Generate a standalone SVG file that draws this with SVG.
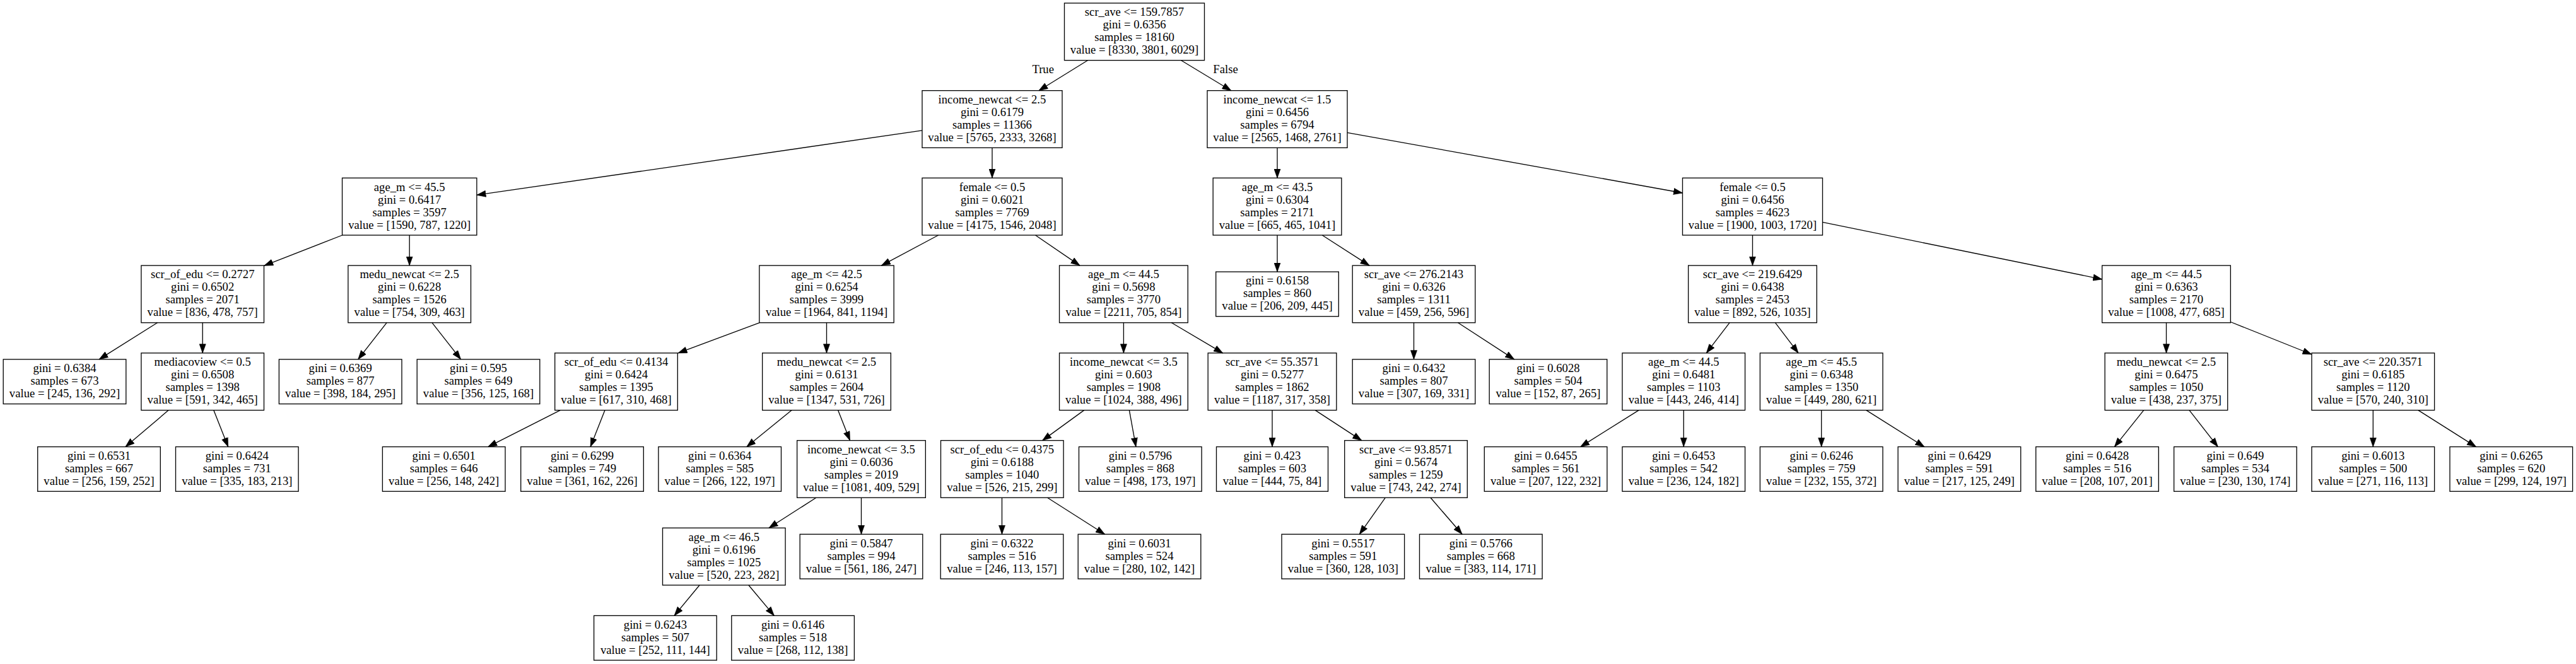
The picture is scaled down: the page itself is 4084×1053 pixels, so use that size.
<svg xmlns="http://www.w3.org/2000/svg" width="4084" height="1053" viewBox="0 0 4084 1053">
<style>
.n rect{fill:none;stroke:#000;stroke-width:1.33}
text{font-family:"Liberation Serif","Times New Roman",serif;font-size:18.67px;text-anchor:middle;fill:#000}
#edges path{fill:none;stroke:#000;stroke-width:1.33;marker-end:url(#ah)}
</style>
<defs>
<marker id="ah" markerUnits="userSpaceOnUse" markerWidth="15" markerHeight="11" viewBox="0 0 14 10" refX="13.5" refY="5" orient="auto">
<path d="M0.2,0.3 L13.5,5 L0.2,9.7 z" fill="#000" stroke="#000" stroke-width="0.6"/>
</marker>
</defs>
<rect x="0" y="0" width="4084" height="1053" fill="#fff"/>
<g id="edges">
<path d="M1724.4,95.7 L1646.9,143.7"/>
<path d="M1872.6,95.7 L1951.9,143.7"/>
<path d="M1462,206.9 L755.9,309.3"/>
<path d="M1573,234.4 L1573,282.3"/>
<path d="M1487.6,373 L1397.4,421.1"/>
<path d="M1641.6,373 L1712,421.1"/>
<path d="M2025,234.4 L2025,282.3"/>
<path d="M2025,373 L2025,431.1"/>
<path d="M2136,210.3 L2667.5,306"/>
<path d="M2096.3,373 L2171.1,421.1"/>
<path d="M2778.5,373 L2778.5,421.1"/>
<path d="M2889.5,352.3 L3332.7,442.9"/>
<path d="M542.6,373 L418.7,421.3"/>
<path d="M649.2,373 L649.2,421.1"/>
<path d="M1203.9,511.8 L1075,559.9"/>
<path d="M1310.5,511.8 L1310.5,559.9"/>
<path d="M1781.4,511.8 L1781.4,559.9"/>
<path d="M1857.3,511.8 L1938.7,559.9"/>
<path d="M2241.5,511.8 L2241.5,569.9"/>
<path d="M2311.5,511.8 L2400.8,569.9"/>
<path d="M2742,511.8 L2705.3,559.9"/>
<path d="M2814.6,511.8 L2851.1,559.9"/>
<path d="M3434.5,511.8 L3434.5,559.9"/>
<path d="M3536.3,510.5 L3665,562"/>
<path d="M249.5,511.8 L157.1,569.9"/>
<path d="M321.2,511.8 L321.2,559.9"/>
<path d="M613,511.8 L567.7,569.9"/>
<path d="M685.1,511.8 L730.6,569.9"/>
<path d="M267.1,650.6 L198.9,708.6"/>
<path d="M338.8,650.6 L361.7,708.6"/>
<path d="M888.1,650.6 L773.7,708.6"/>
<path d="M959,650.6 L936.1,708.6"/>
<path d="M1255.1,650.6 L1183.8,708.6"/>
<path d="M1328.6,650.6 L1347.5,698.6"/>
<path d="M1293.9,789.3 L1219,837.3"/>
<path d="M1365.5,789.3 L1365.5,847.3"/>
<path d="M1109,928 L1069,976.4"/>
<path d="M1186.9,928 L1227.4,976.4"/>
<path d="M1718.6,650.6 L1652.6,698.6"/>
<path d="M1790.4,650.6 L1800.9,708.6"/>
<path d="M2017,650.6 L2017,708.6"/>
<path d="M2085.3,650.6 L2158.8,698.6"/>
<path d="M1588.5,789.3 L1588.5,847.3"/>
<path d="M1660.6,789.3 L1751.6,847.3"/>
<path d="M2196.2,789.3 L2155.3,847.3"/>
<path d="M2268,789.3 L2318.1,847.3"/>
<path d="M2598,650.6 L2505.6,708.6"/>
<path d="M2669.3,650.6 L2669.3,708.6"/>
<path d="M2887.7,650.6 L2887.7,708.6"/>
<path d="M2958.9,650.6 L3050.9,708.6"/>
<path d="M3398.6,650.6 L3352.3,708.6"/>
<path d="M3471,650.6 L3516.3,708.6"/>
<path d="M3762.3,650.6 L3762.3,708.6"/>
<path d="M3834,650.6 L3925.6,708.6"/>
<text x="1653.7" y="116">True</text>
<text x="1943" y="116">False</text>
</g>
<g id="n1" class="n"><rect x="1687.5" y="4.95" width="222" height="90.7"/><text x="1798.5" y="25.2">scr_ave &lt;= 159.7857</text><text x="1798.5" y="45.2">gini = 0.6356</text><text x="1798.5" y="65.2">samples = 18160</text><text x="1798.5" y="85.2">value = [8330, 3801, 6029]</text></g>
<g id="n2" class="n"><rect x="1462" y="143.65" width="222" height="90.7"/><text x="1573" y="163.9">income_newcat &lt;= 2.5</text><text x="1573" y="183.9">gini = 0.6179</text><text x="1573" y="203.9">samples = 11366</text><text x="1573" y="223.9">value = [5765, 2333, 3268]</text></g>
<g id="n3" class="n"><rect x="1914" y="143.65" width="222" height="90.7"/><text x="2025" y="163.9">income_newcat &lt;= 1.5</text><text x="2025" y="183.9">gini = 0.6456</text><text x="2025" y="203.9">samples = 6794</text><text x="2025" y="223.9">value = [2565, 1468, 2761]</text></g>
<g id="n4" class="n"><rect x="542.55" y="282.25" width="213.3" height="90.7"/><text x="649.2" y="302.5">age_m &lt;= 45.5</text><text x="649.2" y="322.5">gini = 0.6417</text><text x="649.2" y="342.5">samples = 3597</text><text x="649.2" y="362.5">value = [1590, 787, 1220]</text></g>
<g id="n5" class="n"><rect x="1462" y="282.25" width="222" height="90.7"/><text x="1573" y="302.5">female &lt;= 0.5</text><text x="1573" y="322.5">gini = 0.6021</text><text x="1573" y="342.5">samples = 7769</text><text x="1573" y="362.5">value = [4175, 1546, 2048]</text></g>
<g id="n6" class="n"><rect x="1923.15" y="282.25" width="203.7" height="90.7"/><text x="2025" y="302.5">age_m &lt;= 43.5</text><text x="2025" y="322.5">gini = 0.6304</text><text x="2025" y="342.5">samples = 2171</text><text x="2025" y="362.5">value = [665, 465, 1041]</text></g>
<g id="n7" class="n"><rect x="2667.5" y="282.25" width="222" height="90.7"/><text x="2778.5" y="302.5">female &lt;= 0.5</text><text x="2778.5" y="322.5">gini = 0.6456</text><text x="2778.5" y="342.5">samples = 4623</text><text x="2778.5" y="362.5">value = [1900, 1003, 1720]</text></g>
<g id="n8" class="n"><rect x="223.9" y="421.05" width="194.6" height="90.7"/><text x="321.2" y="441.3">scr_of_edu &lt;= 0.2727</text><text x="321.2" y="461.3">gini = 0.6502</text><text x="321.2" y="481.3">samples = 2071</text><text x="321.2" y="501.3">value = [836, 478, 757]</text></g>
<g id="n9" class="n"><rect x="551.9" y="421.05" width="194.6" height="90.7"/><text x="649.2" y="441.3">medu_newcat &lt;= 2.5</text><text x="649.2" y="461.3">gini = 0.6228</text><text x="649.2" y="481.3">samples = 1526</text><text x="649.2" y="501.3">value = [754, 309, 463]</text></g>
<g id="n10" class="n"><rect x="1203.85" y="421.05" width="213.3" height="90.7"/><text x="1310.5" y="441.3">age_m &lt;= 42.5</text><text x="1310.5" y="461.3">gini = 0.6254</text><text x="1310.5" y="481.3">samples = 3999</text><text x="1310.5" y="501.3">value = [1964, 841, 1194]</text></g>
<g id="n11" class="n"><rect x="1679.55" y="421.05" width="203.7" height="90.7"/><text x="1781.4" y="441.3">age_m &lt;= 44.5</text><text x="1781.4" y="461.3">gini = 0.5698</text><text x="1781.4" y="481.3">samples = 3770</text><text x="1781.4" y="501.3">value = [2211, 705, 854]</text></g>
<g id="n12" class="n"><rect x="1927.7" y="431.05" width="194.6" height="70.7"/><text x="2025" y="451.3">gini = 0.6158</text><text x="2025" y="471.3">samples = 860</text><text x="2025" y="491.3">value = [206, 209, 445]</text></g>
<g id="n13" class="n"><rect x="2144.2" y="421.05" width="194.6" height="90.7"/><text x="2241.5" y="441.3">scr_ave &lt;= 276.2143</text><text x="2241.5" y="461.3">gini = 0.6326</text><text x="2241.5" y="481.3">samples = 1311</text><text x="2241.5" y="501.3">value = [459, 256, 596]</text></g>
<g id="n14" class="n"><rect x="2676.65" y="421.05" width="203.7" height="90.7"/><text x="2778.5" y="441.3">scr_ave &lt;= 219.6429</text><text x="2778.5" y="461.3">gini = 0.6438</text><text x="2778.5" y="481.3">samples = 2453</text><text x="2778.5" y="501.3">value = [892, 526, 1035]</text></g>
<g id="n15" class="n"><rect x="3332.65" y="421.05" width="203.7" height="90.7"/><text x="3434.5" y="441.3">age_m &lt;= 44.5</text><text x="3434.5" y="461.3">gini = 0.6363</text><text x="3434.5" y="481.3">samples = 2170</text><text x="3434.5" y="501.3">value = [1008, 477, 685]</text></g>
<g id="n16" class="n"><rect x="5.2" y="569.85" width="194.6" height="70.7"/><text x="102.5" y="590.1">gini = 0.6384</text><text x="102.5" y="610.1">samples = 673</text><text x="102.5" y="630.1">value = [245, 136, 292]</text></g>
<g id="n17" class="n"><rect x="223.9" y="559.85" width="194.6" height="90.7"/><text x="321.2" y="580.1">mediacoview &lt;= 0.5</text><text x="321.2" y="600.1">gini = 0.6508</text><text x="321.2" y="620.1">samples = 1398</text><text x="321.2" y="640.1">value = [591, 342, 465]</text></g>
<g id="n18" class="n"><rect x="442.4" y="569.85" width="194.6" height="70.7"/><text x="539.7" y="590.1">gini = 0.6369</text><text x="539.7" y="610.1">samples = 877</text><text x="539.7" y="630.1">value = [398, 184, 295]</text></g>
<g id="n19" class="n"><rect x="661.2" y="569.85" width="194.6" height="70.7"/><text x="758.5" y="590.1">gini = 0.595</text><text x="758.5" y="610.1">samples = 649</text><text x="758.5" y="630.1">value = [356, 125, 168]</text></g>
<g id="n20" class="n"><rect x="879.7" y="559.85" width="194.6" height="90.7"/><text x="977" y="580.1">scr_of_edu &lt;= 0.4134</text><text x="977" y="600.1">gini = 0.6424</text><text x="977" y="620.1">samples = 1395</text><text x="977" y="640.1">value = [617, 310, 468]</text></g>
<g id="n21" class="n"><rect x="1208.65" y="559.85" width="203.7" height="90.7"/><text x="1310.5" y="580.1">medu_newcat &lt;= 2.5</text><text x="1310.5" y="600.1">gini = 0.6131</text><text x="1310.5" y="620.1">samples = 2604</text><text x="1310.5" y="640.1">value = [1347, 531, 726]</text></g>
<g id="n22" class="n"><rect x="1679.55" y="559.85" width="203.7" height="90.7"/><text x="1781.4" y="580.1">income_newcat &lt;= 3.5</text><text x="1781.4" y="600.1">gini = 0.603</text><text x="1781.4" y="620.1">samples = 1908</text><text x="1781.4" y="640.1">value = [1024, 388, 496]</text></g>
<g id="n23" class="n"><rect x="1915.15" y="559.85" width="203.7" height="90.7"/><text x="2017" y="580.1">scr_ave &lt;= 55.3571</text><text x="2017" y="600.1">gini = 0.5277</text><text x="2017" y="620.1">samples = 1862</text><text x="2017" y="640.1">value = [1187, 317, 358]</text></g>
<g id="n24" class="n"><rect x="2144.2" y="569.85" width="194.6" height="70.7"/><text x="2241.5" y="590.1">gini = 0.6432</text><text x="2241.5" y="610.1">samples = 807</text><text x="2241.5" y="630.1">value = [307, 169, 331]</text></g>
<g id="n25" class="n"><rect x="2361.2" y="569.85" width="186.6" height="70.7"/><text x="2454.5" y="590.1">gini = 0.6028</text><text x="2454.5" y="610.1">samples = 504</text><text x="2454.5" y="630.1">value = [152, 87, 265]</text></g>
<g id="n26" class="n"><rect x="2572" y="559.85" width="194.6" height="90.7"/><text x="2669.3" y="580.1">age_m &lt;= 44.5</text><text x="2669.3" y="600.1">gini = 0.6481</text><text x="2669.3" y="620.1">samples = 1103</text><text x="2669.3" y="640.1">value = [443, 246, 414]</text></g>
<g id="n27" class="n"><rect x="2790.4" y="559.85" width="194.6" height="90.7"/><text x="2887.7" y="580.1">age_m &lt;= 45.5</text><text x="2887.7" y="600.1">gini = 0.6348</text><text x="2887.7" y="620.1">samples = 1350</text><text x="2887.7" y="640.1">value = [449, 280, 621]</text></g>
<g id="n28" class="n"><rect x="3337.1" y="559.85" width="194.6" height="90.7"/><text x="3434.4" y="580.1">medu_newcat &lt;= 2.5</text><text x="3434.4" y="600.1">gini = 0.6475</text><text x="3434.4" y="620.1">samples = 1050</text><text x="3434.4" y="640.1">value = [438, 237, 375]</text></g>
<g id="n29" class="n"><rect x="3665" y="559.85" width="194.6" height="90.7"/><text x="3762.3" y="580.1">scr_ave &lt;= 220.3571</text><text x="3762.3" y="600.1">gini = 0.6185</text><text x="3762.3" y="620.1">samples = 1120</text><text x="3762.3" y="640.1">value = [570, 240, 310]</text></g>
<g id="n30" class="n"><rect x="59.7" y="708.55" width="194.6" height="70.7"/><text x="157" y="728.8">gini = 0.6531</text><text x="157" y="748.8">samples = 667</text><text x="157" y="768.8">value = [256, 159, 252]</text></g>
<g id="n31" class="n"><rect x="278.5" y="708.55" width="194.6" height="70.7"/><text x="375.8" y="728.8">gini = 0.6424</text><text x="375.8" y="748.8">samples = 731</text><text x="375.8" y="768.8">value = [335, 183, 213]</text></g>
<g id="n32" class="n"><rect x="606.4" y="708.55" width="194.6" height="70.7"/><text x="703.7" y="728.8">gini = 0.6501</text><text x="703.7" y="748.8">samples = 646</text><text x="703.7" y="768.8">value = [256, 148, 242]</text></g>
<g id="n33" class="n"><rect x="825.7" y="708.55" width="194.6" height="70.7"/><text x="923" y="728.8">gini = 0.6299</text><text x="923" y="748.8">samples = 749</text><text x="923" y="768.8">value = [361, 162, 226]</text></g>
<g id="n34" class="n"><rect x="1043.9" y="708.55" width="194.6" height="70.7"/><text x="1141.2" y="728.8">gini = 0.6364</text><text x="1141.2" y="748.8">samples = 585</text><text x="1141.2" y="768.8">value = [266, 122, 197]</text></g>
<g id="n35" class="n"><rect x="1263.65" y="698.55" width="203.7" height="90.7"/><text x="1365.5" y="718.8">income_newcat &lt;= 3.5</text><text x="1365.5" y="738.8">gini = 0.6036</text><text x="1365.5" y="758.8">samples = 2019</text><text x="1365.5" y="778.8">value = [1081, 409, 529]</text></g>
<g id="n36" class="n"><rect x="1491.5" y="698.55" width="194.6" height="90.7"/><text x="1588.8" y="718.8">scr_of_edu &lt;= 0.4375</text><text x="1588.8" y="738.8">gini = 0.6188</text><text x="1588.8" y="758.8">samples = 1040</text><text x="1588.8" y="778.8">value = [526, 215, 299]</text></g>
<g id="n37" class="n"><rect x="1710.5" y="708.55" width="194.6" height="70.7"/><text x="1807.8" y="728.8">gini = 0.5796</text><text x="1807.8" y="748.8">samples = 868</text><text x="1807.8" y="768.8">value = [498, 173, 197]</text></g>
<g id="n38" class="n"><rect x="1928.5" y="708.55" width="177" height="70.7"/><text x="2017" y="728.8">gini = 0.423</text><text x="2017" y="748.8">samples = 603</text><text x="2017" y="768.8">value = [444, 75, 84]</text></g>
<g id="n39" class="n"><rect x="2131.7" y="698.55" width="194.6" height="90.7"/><text x="2229" y="718.8">scr_ave &lt;= 93.8571</text><text x="2229" y="738.8">gini = 0.5674</text><text x="2229" y="758.8">samples = 1259</text><text x="2229" y="778.8">value = [743, 242, 274]</text></g>
<g id="n40" class="n"><rect x="2353.3" y="708.55" width="194.6" height="70.7"/><text x="2450.6" y="728.8">gini = 0.6455</text><text x="2450.6" y="748.8">samples = 561</text><text x="2450.6" y="768.8">value = [207, 122, 232]</text></g>
<g id="n41" class="n"><rect x="2572" y="708.55" width="194.6" height="70.7"/><text x="2669.3" y="728.8">gini = 0.6453</text><text x="2669.3" y="748.8">samples = 542</text><text x="2669.3" y="768.8">value = [236, 124, 182]</text></g>
<g id="n42" class="n"><rect x="2790.4" y="708.55" width="194.6" height="70.7"/><text x="2887.7" y="728.8">gini = 0.6246</text><text x="2887.7" y="748.8">samples = 759</text><text x="2887.7" y="768.8">value = [232, 155, 372]</text></g>
<g id="n43" class="n"><rect x="3009.1" y="708.55" width="194.6" height="70.7"/><text x="3106.4" y="728.8">gini = 0.6429</text><text x="3106.4" y="748.8">samples = 591</text><text x="3106.4" y="768.8">value = [217, 125, 249]</text></g>
<g id="n44" class="n"><rect x="3227.7" y="708.55" width="194.6" height="70.7"/><text x="3325" y="728.8">gini = 0.6428</text><text x="3325" y="748.8">samples = 516</text><text x="3325" y="768.8">value = [208, 107, 201]</text></g>
<g id="n45" class="n"><rect x="3446.6" y="708.55" width="194.6" height="70.7"/><text x="3543.9" y="728.8">gini = 0.649</text><text x="3543.9" y="748.8">samples = 534</text><text x="3543.9" y="768.8">value = [230, 130, 174]</text></g>
<g id="n46" class="n"><rect x="3665" y="708.55" width="194.6" height="70.7"/><text x="3762.3" y="728.8">gini = 0.6013</text><text x="3762.3" y="748.8">samples = 500</text><text x="3762.3" y="768.8">value = [271, 116, 113]</text></g>
<g id="n47" class="n"><rect x="3884" y="708.55" width="194.6" height="70.7"/><text x="3981.3" y="728.8">gini = 0.6265</text><text x="3981.3" y="748.8">samples = 620</text><text x="3981.3" y="768.8">value = [299, 124, 197]</text></g>
<g id="n48" class="n"><rect x="1050.5" y="837.25" width="194.6" height="90.7"/><text x="1147.8" y="857.5">age_m &lt;= 46.5</text><text x="1147.8" y="877.5">gini = 0.6196</text><text x="1147.8" y="897.5">samples = 1025</text><text x="1147.8" y="917.5">value = [520, 223, 282]</text></g>
<g id="n49" class="n"><rect x="1268.2" y="847.25" width="194.6" height="70.7"/><text x="1365.5" y="867.5">gini = 0.5847</text><text x="1365.5" y="887.5">samples = 994</text><text x="1365.5" y="907.5">value = [561, 186, 247]</text></g>
<g id="n50" class="n"><rect x="1491.2" y="847.25" width="194.6" height="70.7"/><text x="1588.5" y="867.5">gini = 0.6322</text><text x="1588.5" y="887.5">samples = 516</text><text x="1588.5" y="907.5">value = [246, 113, 157]</text></g>
<g id="n51" class="n"><rect x="1709.2" y="847.25" width="194.6" height="70.7"/><text x="1806.5" y="867.5">gini = 0.6031</text><text x="1806.5" y="887.5">samples = 524</text><text x="1806.5" y="907.5">value = [280, 102, 142]</text></g>
<g id="n52" class="n"><rect x="2032" y="847.25" width="194.6" height="70.7"/><text x="2129.3" y="867.5">gini = 0.5517</text><text x="2129.3" y="887.5">samples = 591</text><text x="2129.3" y="907.5">value = [360, 128, 103]</text></g>
<g id="n53" class="n"><rect x="2250.5" y="847.25" width="194.6" height="70.7"/><text x="2347.8" y="867.5">gini = 0.5766</text><text x="2347.8" y="887.5">samples = 668</text><text x="2347.8" y="907.5">value = [383, 114, 171]</text></g>
<g id="n54" class="n"><rect x="941.6" y="976.35" width="194.6" height="70.7"/><text x="1038.9" y="996.6">gini = 0.6243</text><text x="1038.9" y="1016.6">samples = 507</text><text x="1038.9" y="1036.6">value = [252, 111, 144]</text></g>
<g id="n55" class="n"><rect x="1159.8" y="976.35" width="194.6" height="70.7"/><text x="1257.1" y="996.6">gini = 0.6146</text><text x="1257.1" y="1016.6">samples = 518</text><text x="1257.1" y="1036.6">value = [268, 112, 138]</text></g>
</svg>
